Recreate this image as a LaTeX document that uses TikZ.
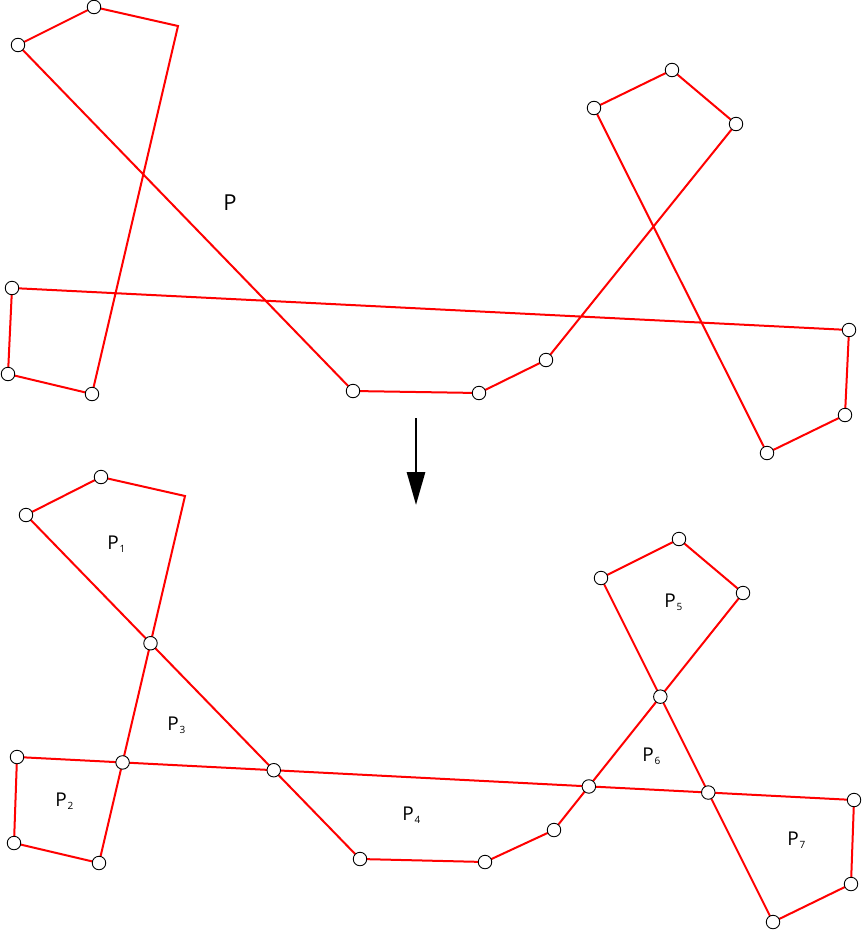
\documentclass[tikz,border=0pt]{standalone}
\usepackage{fontspec}
\setmainfont{Open Sans}
\usetikzlibrary{arrows.meta}
\begin{document}
\begin{tikzpicture}[x=1pt,y=-1pt,
  edge/.style={draw=red,line width=2pt,line join=miter},
  vtx/.style={circle,draw=black,fill=white,line width=0.9pt,minimum size=13.5pt,inner sep=0pt},
  lbl/.style={font=\fontsize{19}{19}\selectfont,inner sep=0pt},
  sub/.style={font=\fontsize{10}{10}\selectfont,inner sep=0pt}]
\useasboundingbox (0,0) rectangle (863,932);
% top polygon
\coordinate (A) at (18,45);
\coordinate (B) at (94,7);
\coordinate (C) at (178,26);
\coordinate (D) at (92,394);
\coordinate (E) at (8,374);
\coordinate (F) at (12,288);
\coordinate (G) at (849,330);
\coordinate (H) at (845,415);
\coordinate (I) at (767,453);
\coordinate (J) at (594,108);
\coordinate (K) at (672,70);
\coordinate (L) at (736,124);
\coordinate (M) at (546,360);
\coordinate (N) at (479,393);
\coordinate (O) at (353,391);
\path[edge] (A)--(B)--(C)--(D)--(E)--(F)--(G)--(H)--(I)--(J)--(K)--(L)--(M)--(N)--(O)--cycle;
\foreach \v in {A,B,D,E,F,G,H,I,J,K,L,M,N,O} \node[vtx] at (\v) {};
\node[lbl,font=\fontsize{22}{22}\selectfont] (P) at (230,203) {P};
% arrow
\coordinate (ar1) at (416,418);
\coordinate (ar2) at (416,505);
\draw[line width=2.8pt,-{Triangle[length=33pt,width=18pt]}] (ar1)--(ar2);
% bottom polygon
\coordinate (a) at (26,515);
\coordinate (b) at (101,477);
\coordinate (c) at (185,496);
\coordinate (d) at (99,863);
\coordinate (e) at (14,843);
\coordinate (f) at (17,757);
\coordinate (g) at (854,800);
\coordinate (h) at (851,884);
\coordinate (i) at (773,922);
\coordinate (j) at (601,578);
\coordinate (k) at (679,539);
\coordinate (l) at (743,593);
\coordinate (m) at (554,830);
\coordinate (n) at (485,862);
\coordinate (o) at (360,859);
\path[edge] (a)--(b)--(c)--(d)--(e)--(f)--(g)--(h)--(i)--(j)--(k)--(l)--(m)--(n)--(o)--cycle;
\coordinate (x1) at (intersection of a--o and c--d);
\coordinate (x2) at (intersection of c--d and f--g);
\coordinate (x3) at (intersection of a--o and f--g);
\coordinate (x4) at (intersection of l--m and f--g);
\coordinate (x5) at (intersection of i--j and l--m);
\coordinate (x6) at (intersection of i--j and f--g);
\foreach \v in {a,b,d,e,f,g,h,i,j,k,l,m,n,o,x1,x2,x3,x4,x5,x6} \node[vtx] at (\v) {};
% labels
\foreach \n/\x/\y in {1/113/543, 2/61/800, 3/173/724, 4/408/814, 5/670/601, 6/648/755, 7/793/839}{
  \node[lbl] (P\n) at (\x,\y) {P};
  \node[sub,anchor=west] (s\n) at ([xshift=0.5pt,yshift=-6pt]P\n.east) {\n};
}
\end{tikzpicture}
\end{document}
